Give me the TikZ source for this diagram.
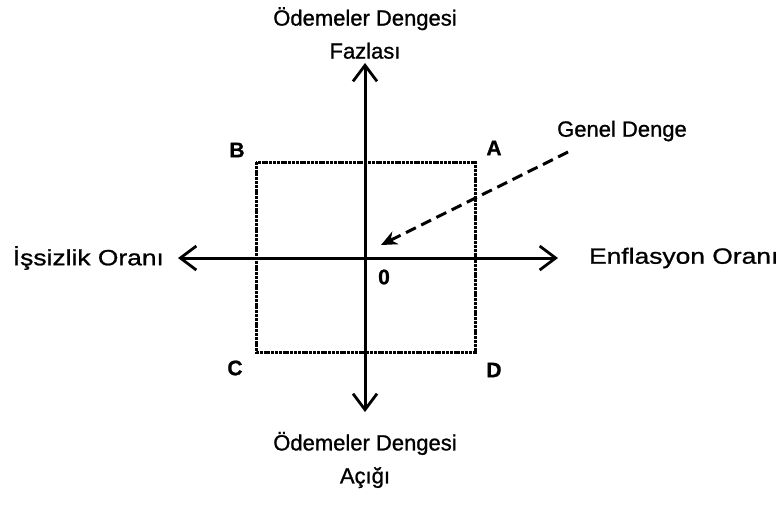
\documentclass[tikz,border=0pt]{standalone}
\usepackage{fontspec}
\setmainfont{Liberation Sans}[FakeBold=1]
\usetikzlibrary{arrows.meta,positioning,calc}
\tikzset{barb/.tip={Straight Barb[length=8pt,width=12pt,line width=1.4pt]}}

\begin{document}
\begin{tikzpicture}[x=0.5pt,y=-0.5pt,font=\fontsize{11}{16.5}\selectfont,
    axis/.style={line width=1.5pt,barb-barb},
    frame/.style={line width=1.5pt,dash pattern=on 1.5pt off 0.4pt},
    pointer/.style={line width=1.5pt,dash pattern=on 5.5pt off 3pt,-{Stealth[length=8pt,width=7pt]}},
    side/.style={font=\fontsize{11}{12}\selectfont\addfontfeature{FakeStretch=1.2}},
    corner/.style={font=\fontsize{10.5}{11}\selectfont\bfseries}]
  \useasboundingbox (0,0) rectangle (779,505);

  \coordinate (top) at (365,63);
  \coordinate (bot) at (365,412);
  \coordinate (lft) at (178,258);
  \coordinate (rgt) at (558,258);
  \coordinate (sqB) at (256,162);
  \coordinate (sqD) at (475,352);
  \coordinate (eq) at (381,245);
  \coordinate (gstart) at (568,152);

  \node[align=center] (fazla) at (365,33) {Ödemeler Dengesi\\Fazlası};
  \node[align=center] (acik) at (365,460) {Ödemeler Dengesi\\Açığı};
  \node[side,anchor=east] (issiz) at (171,258) {İşsizlik Oranı};
  \node[side,anchor=west] (enf) at (582,258) {Enflasyon Oranı};
  \node (genel) at (622,131) {Genel Denge};

  \node[corner] (labA) at (494,148) {A};
  \node[corner] (labB) at (237,150) {B};
  \node[corner] (labC) at (235,368) {C};
  \node[corner] (labD) at (494,370) {D};
  \node[corner] (labO) at (384,277) {0};

  \draw[frame] (sqB) rectangle (sqD);
  \draw[axis] (top) -- (bot);
  \draw[axis] (lft) -- (rgt);
  \draw[pointer] (gstart) -- (eq);
\end{tikzpicture}
\end{document}
